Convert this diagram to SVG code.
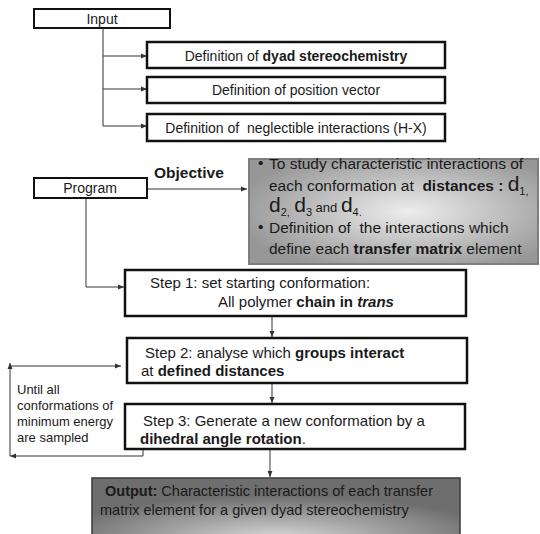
<svg xmlns="http://www.w3.org/2000/svg" width="540" height="534" viewBox="0 0 540 534">
<defs>
<style>
text{font-family:"Liberation Sans",Arial,sans-serif;fill:#1a1a1a}
.box{fill:#fff;stroke:#111;stroke-width:2.5}
.sbox{fill:#fff;stroke:#111;stroke-width:2}
.t14{font-size:14px}
.t15{font-size:15px}
.t13{font-size:13px}
.g{font-size:15.5px}
.b{font-weight:bold}
.conn{fill:none;stroke:#333;stroke-width:1}
</style>
<marker id="ah" markerWidth="6" markerHeight="6" refX="6" refY="3" orient="auto" markerUnits="userSpaceOnUse">
<path d="M0,0.5 L6,3 L0,5.5 z" fill="#333"/>
</marker>
<radialGradient id="gGray" cx="55%" cy="50%" r="60%">
<stop offset="0" stop-color="#ededed"/>
<stop offset="1" stop-color="#979797"/>
</radialGradient>
<radialGradient id="gOut" cx="50%" cy="85%" r="60%">
<stop offset="0" stop-color="#d6d6d6"/>
<stop offset="1" stop-color="#6e6e6e"/>
</radialGradient>
</defs>
<rect width="540" height="534" fill="#fff"/>

<g id="connectors">
<path class="conn" d="M103,28 V126"/>
<path class="conn" d="M103,56 H147" marker-end="url(#ah)"/>
<path class="conn" d="M103,89 H147" marker-end="url(#ah)"/>
<path class="conn" d="M103,126 H147" marker-end="url(#ah)"/>
<path class="conn" d="M147,189 H247" marker-end="url(#ah)"/>
<path class="conn" d="M86,198 V287 H124" marker-end="url(#ah)"/>
<path class="conn" d="M272,316 V337" marker-end="url(#ah)"/>
<path class="conn" d="M272,383 V403" marker-end="url(#ah)"/>
<path class="conn" d="M270,449 V477" marker-end="url(#ah)"/>
<path class="conn" d="M143,449 V456 H10" marker-end="url(#ah)"/>
<path class="conn" d="M10,456 V363" marker-end="url(#ah)"/>
<path class="conn" d="M10,366 H121" marker-end="url(#ah)"/>
</g>

<g id="input">
<rect class="sbox" x="34" y="9" width="136" height="19"/>
<text class="t14" x="102" y="24" text-anchor="middle">Input</text>
</g>

<g id="def-dyad">
<rect class="box" x="147" y="42" width="298" height="26"/>
<text class="t14" x="296" y="61" text-anchor="middle">Definition of <tspan class="b">dyad stereochemistry</tspan></text>
</g>

<g id="def-position">
<rect class="box" x="147" y="77" width="298" height="26"/>
<text class="t14" x="296" y="95" text-anchor="middle">Definition of position vector</text>
</g>

<g id="def-neglectible">
<rect class="box" x="147" y="114" width="298" height="27"/>
<text class="t14" x="296" y="133" text-anchor="middle" xml:space="preserve">Definition of  neglectible interactions (H-X)</text>
</g>

<g id="program">
<rect class="sbox" x="34" y="178" width="113" height="20"/>
<text class="t14" x="90" y="193" text-anchor="middle">Program</text>
</g>

<g id="objective-label">
<text class="b" font-size="15.5" x="154" y="178">Objective</text>
</g>

<g id="objective">
<rect x="249" y="159" width="289" height="105" fill="url(#gGray)" stroke="#7e7e7e" stroke-width="2"/>
<text class="g" x="258" y="168">•</text>
<text class="g" x="269" y="169">To study characteristic interactions of</text>
<text class="g" x="269" y="191" xml:space="preserve">each conformation at  <tspan class="b">distances : </tspan><tspan font-size="21">d</tspan><tspan font-size="11" dy="4">1,</tspan></text>
<text class="g" x="269" y="212" xml:space="preserve"><tspan font-size="21">d</tspan><tspan font-size="11" dy="4">2,</tspan><tspan dy="-4"> </tspan><tspan font-size="21">d</tspan><tspan font-size="11" dy="4">3</tspan><tspan font-size="13" dy="-4"> and </tspan><tspan font-size="21">d</tspan><tspan font-size="11" dy="4">4.</tspan></text>
<text class="g" x="258" y="232">•</text>
<text class="g" x="269" y="233" xml:space="preserve">Definition of  the interactions which</text>
<text class="g" x="269" y="254">define each <tspan class="b">transfer matrix</tspan> element</text>
</g>

<g id="step1">
<rect class="box" x="125" y="270" width="341" height="46"/>
<text class="t15" x="150" y="288">Step 1: set starting conformation:</text>
<text class="t15" x="218" y="307">All polymer <tspan class="b">chain in <tspan font-style="italic">trans</tspan></tspan></text>
</g>

<g id="step2">
<rect class="box" x="127" y="338" width="340" height="45"/>
<text class="t15" x="145" y="358">Step 2: analyse which <tspan class="b">groups interact</tspan></text>
<text class="t15" x="141" y="376">at <tspan class="b">defined distances</tspan></text>
</g>

<g id="loop-label">
<text class="t13" x="17" y="394">Until all</text>
<text class="t13" x="17" y="410">conformations of</text>
<text class="t13" x="17" y="426">minimum energy</text>
<text class="t13" x="17" y="442">are sampled</text>
</g>

<g id="step3">
<rect class="box" x="125" y="404" width="340" height="45"/>
<text class="t15" x="143" y="426">Step 3: Generate a new conformation by a</text>
<text class="t15" x="140" y="444"><tspan class="b">dihedral angle rotation</tspan>.</text>
</g>

<g id="output">
<rect x="92" y="478" width="368" height="70" fill="url(#gOut)" stroke="#3a3a3a" stroke-width="1.5"/>
<text font-size="14.5" x="105" y="496"><tspan class="b">Output:</tspan> Characteristic interactions of each transfer</text>
<text font-size="14.5" x="100" y="515">matrix element for a given dyad stereochemistry</text>
</g>
</svg>
